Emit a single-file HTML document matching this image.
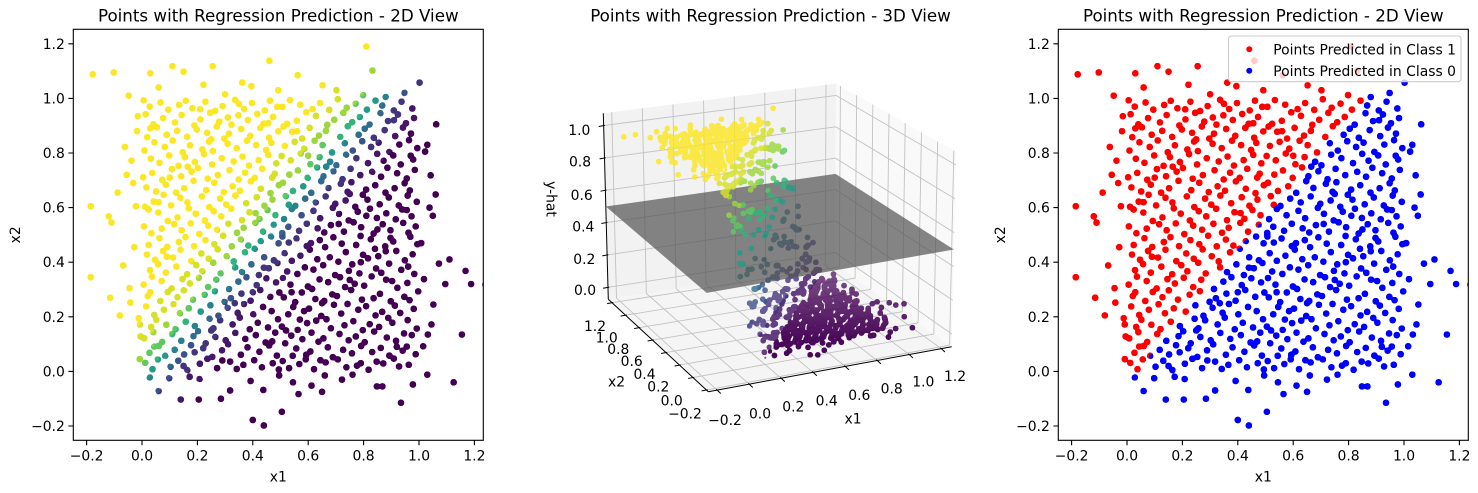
<!DOCTYPE html>
<html><head><meta charset="utf-8">
<style>
html,body{margin:0;padding:0;background:#fff;width:1478px;height:493px;overflow:hidden;}
svg{display:block;overflow:hidden;font-family:"DejaVu Sans","Liberation Sans",sans-serif;}
</style></head>
<body>
<svg width="1478" height="493" viewBox="0 0 1478 493" xmlns="http://www.w3.org/2000/svg" xmlns:xlink="http://www.w3.org/1999/xlink">
<defs>
<clipPath id="c1"><rect x="73.3" y="29.3" width="410" height="411"/></clipPath>
<clipPath id="c3"><rect x="1058.3" y="29.3" width="410" height="411"/></clipPath>
<clipPath id="cv"><rect x="540" y="60" width="440" height="360"/></clipPath>
<linearGradient id="gd" gradientUnits="userSpaceOnUse" x1="0" y1="340" x2="0" y2="250"><stop offset="0" stop-color="#ffffff"/><stop offset="1" stop-color="#999999"/></linearGradient>
<mask id="md" maskUnits="userSpaceOnUse" x="0" y="0" width="1478" height="493"><rect x="0" y="0" width="1478" height="493" fill="url(#gd)"/></mask>
<path id="T" fill="none" vector-effect="non-scaling-stroke" stroke-linecap="round" d="M12 31h0M38 8h0M57 44h0M103 17h0M131 39h0M164 5h0M209 28h0M236 46h0M271 12h0M318 36h0M342 9h0M366 24h0M405 41h0M433 15h0M472 30h0M494 7h0M27 68h0M44 91h0M61 93h0M84 57h0M118 79h0M152 62h0M177 96h0M221 85h0M254 53h0M289 77h0M311 99h0M357 61h0M381 88h0M424 72h0M459 95h0M487 58h0M8 121h0M41 144h0M73 108h0M109 137h0M142 112h0M186 129h0M203 147h0M230 103h0M265 126h0M302 114h0M337 141h0M373 119h0M411 133h0M446 106h0M481 142h0M33 163h0M52 189h0M88 171h0M121 155h0M158 182h0M191 166h0M244 193h0M258 158h0M282 187h0M327 172h0M353 197h0M389 154h0M418 178h0M455 161h0M491 191h0M15 238h0M44 207h0M79 226h0M114 246h0M137 213h0M169 231h0M212 219h0M247 242h0M276 204h0M309 233h0M345 215h0M368 247h0M402 209h0M437 236h0M468 221h0M21 276h0M66 258h0M93 291h0M128 272h0M151 297h0M184 263h0M226 281h0M263 294h0M298 255h0M321 268h0M359 285h0M392 259h0M427 298h0M463 273h0M496 289h0M6 318h0M36 347h0M71 331h0M107 304h0M146 338h0M173 322h0M205 343h0M239 309h0M268 336h0M314 302h0M348 329h0M377 345h0M414 316h0M449 341h0M484 326h0M29 371h0M58 393h0M86 362h0M124 384h0M163 356h0M196 389h0M218 367h0M257 398h0M284 359h0M336 381h0M361 364h0M395 392h0M422 353h0M458 378h0M489 397h0M18 428h0M47 409h0M76 441h0M112 417h0M139 446h0M178 404h0M214 432h0M241 413h0M273 447h0M306 422h0M331 403h0M372 436h0M407 449h0M441 418h0M476 407h0M24 463h0M63 488h0M91 456h0M133 474h0M157 492h0M188 459h0M229 481h0M261 466h0M293 497h0M324 458h0M357 483h0M384 461h0M429 477h0M466 494h0M493 469h0M190 70h0M335 250h0M440 380h0M250 150h0M90 420h0M470 110h0M150 20h0M400 290h0M30 290h0M290 40h0"/>
<path id="Edge" fill="none" vector-effect="non-scaling-stroke" stroke-linecap="round" d="M-185 345h0M-115 270h0M-80 205h0M-45 305h0M-42 252h0M-12 195h0M-8 172h0M-5 128h0M-22 605h0M-38 772h0M-62 822h0M-88 655h0M-120 568h0M-178 1088h0M-102 1095h0M-28 455h0M-68 388h0M-15 935h0M-48 1010h0M-55 720h0M-185 605h0M-110 545h0M-32 690h0M-8 45h0M-18 880h0M440 -198h0M400 -178h0M505 -148h0M140 -103h0M205 -103h0M285 -100h0M565 -83h0M650 -75h0M935 -115h0M60 -72h0M868 -55h0M848 -55h0M318 -70h0M28 -22h0M98 -25h0M172 -20h0M392 -35h0M438 -68h0M612 -52h0M978 -48h0M760 -12h0M722 -30h0M495 -15h0M545 -40h0M1030 -12h0M208 -28h0M660 -15h0M1240 318h0M1188 320h0M1168 368h0M1155 135h0M1125 -40h0M1110 410h0M1072 395h0M1052 245h0M1045 172h0M1032 135h0M1018 338h0M1050 570h0M1060 648h0M1042 718h0M1022 805h0M1062 905h0M1030 830h0M1015 92h0M1095 320h0M1008 470h0M1038 600h0M810 1190h0M460 1138h0M110 1118h0M255 1118h0M30 1092h0M362 1058h0M150 1098h0M832 1102h0M1002 1058h0M562 1085h0M652 1048h0M492 1030h0M798 1012h0M222 1050h0M702 1030h0M948 1020h0M395 1045h0M60 1040h0M300 1015h0M880 1005h0"/>
<g id="cloud">
<use href="#T" xlink:href="#T"/>
<use href="#T" xlink:href="#T" transform="matrix(0,1,1,0,500,0)"/>
<use href="#T" xlink:href="#T" transform="matrix(-1,0,0,-1,500,1000)"/>
<use href="#T" xlink:href="#T" transform="matrix(-1,0,0,1,1000,500)"/>
<use href="#Edge" xlink:href="#Edge"/>
</g>
<clipPath id="k0" clipPathUnits="userSpaceOnUse"><polygon points="-95,-400 1463,1500 3000,1500 3000,-400"/></clipPath>
<clipPath id="k1" clipPathUnits="userSpaceOnUse"><polygon points="-166,-400 1392,1500 1463,1500 -95,-400"/></clipPath>
<clipPath id="k2" clipPathUnits="userSpaceOnUse"><polygon points="-211,-400 1347,1500 1392,1500 -166,-400"/></clipPath>
<clipPath id="k3" clipPathUnits="userSpaceOnUse"><polygon points="-241,-400 1317,1500 1347,1500 -211,-400"/></clipPath>
<clipPath id="k4" clipPathUnits="userSpaceOnUse"><polygon points="-266,-400 1292,1500 1317,1500 -241,-400"/></clipPath>
<clipPath id="k5" clipPathUnits="userSpaceOnUse"><polygon points="-288,-400 1270,1500 1292,1500 -266,-400"/></clipPath>
<clipPath id="k6" clipPathUnits="userSpaceOnUse"><polygon points="-310,-400 1248,1500 1270,1500 -288,-400"/></clipPath>
<clipPath id="k7" clipPathUnits="userSpaceOnUse"><polygon points="-335,-400 1223,1500 1248,1500 -310,-400"/></clipPath>
<clipPath id="k8" clipPathUnits="userSpaceOnUse"><polygon points="-365,-400 1193,1500 1223,1500 -335,-400"/></clipPath>
<clipPath id="k9" clipPathUnits="userSpaceOnUse"><polygon points="-410,-400 1148,1500 1193,1500 -365,-400"/></clipPath>
<clipPath id="k10" clipPathUnits="userSpaceOnUse"><polygon points="-481,-400 1077,1500 1148,1500 -410,-400"/></clipPath>
<clipPath id="k11" clipPathUnits="userSpaceOnUse"><polygon points="-3000,-400 -481,-400 1077,1500 -3000,1500"/></clipPath>
<clipPath id="kr" clipPathUnits="userSpaceOnUse"><polygon points="-3000,-400 -288,-400 1270,1500 -3000,1500"/></clipPath>
<clipPath id="kb" clipPathUnits="userSpaceOnUse"><polygon points="-288,-400 1270,1500 3000,1500 3000,-400"/></clipPath>

<filter id="f0" filterUnits="userSpaceOnUse" x="0" y="0" width="1478" height="493" color-interpolation-filters="sRGB"><feGaussianBlur in="SourceAlpha" stdDeviation="1" result="b"/><feComponentTransfer in="b" result="m"><feFuncA type="linear" slope="33" intercept="-1.02"/></feComponentTransfer><feFlood flood-color="#440154"/><feComposite in2="m" operator="in"/></filter>
<filter id="f1" filterUnits="userSpaceOnUse" x="0" y="0" width="1478" height="493" color-interpolation-filters="sRGB"><feGaussianBlur in="SourceAlpha" stdDeviation="1" result="b"/><feComponentTransfer in="b" result="m"><feFuncA type="linear" slope="33" intercept="-1.02"/></feComponentTransfer><feFlood flood-color="#461669"/><feComposite in2="m" operator="in"/></filter>
<filter id="f2" filterUnits="userSpaceOnUse" x="0" y="0" width="1478" height="493" color-interpolation-filters="sRGB"><feGaussianBlur in="SourceAlpha" stdDeviation="1" result="b"/><feComponentTransfer in="b" result="m"><feFuncA type="linear" slope="33" intercept="-1.02"/></feComponentTransfer><feFlood flood-color="#44347e"/><feComposite in2="m" operator="in"/></filter>
<filter id="f3" filterUnits="userSpaceOnUse" x="0" y="0" width="1478" height="493" color-interpolation-filters="sRGB"><feGaussianBlur in="SourceAlpha" stdDeviation="1" result="b"/><feComponentTransfer in="b" result="m"><feFuncA type="linear" slope="33" intercept="-1.02"/></feComponentTransfer><feFlood flood-color="#3b528a"/><feComposite in2="m" operator="in"/></filter>
<filter id="f4" filterUnits="userSpaceOnUse" x="0" y="0" width="1478" height="493" color-interpolation-filters="sRGB"><feGaussianBlur in="SourceAlpha" stdDeviation="1" result="b"/><feComponentTransfer in="b" result="m"><feFuncA type="linear" slope="33" intercept="-1.02"/></feComponentTransfer><feFlood flood-color="#306c8e"/><feComposite in2="m" operator="in"/></filter>
<filter id="f5" filterUnits="userSpaceOnUse" x="0" y="0" width="1478" height="493" color-interpolation-filters="sRGB"><feGaussianBlur in="SourceAlpha" stdDeviation="1" result="b"/><feComponentTransfer in="b" result="m"><feFuncA type="linear" slope="33" intercept="-1.02"/></feComponentTransfer><feFlood flood-color="#26848d"/><feComposite in2="m" operator="in"/></filter>
<filter id="f6" filterUnits="userSpaceOnUse" x="0" y="0" width="1478" height="493" color-interpolation-filters="sRGB"><feGaussianBlur in="SourceAlpha" stdDeviation="1" result="b"/><feComponentTransfer in="b" result="m"><feFuncA type="linear" slope="33" intercept="-1.02"/></feComponentTransfer><feFlood flood-color="#229c88"/><feComposite in2="m" operator="in"/></filter>
<filter id="f7" filterUnits="userSpaceOnUse" x="0" y="0" width="1478" height="493" color-interpolation-filters="sRGB"><feGaussianBlur in="SourceAlpha" stdDeviation="1" result="b"/><feComponentTransfer in="b" result="m"><feFuncA type="linear" slope="33" intercept="-1.02"/></feComponentTransfer><feFlood flood-color="#33b47a"/><feComposite in2="m" operator="in"/></filter>
<filter id="f8" filterUnits="userSpaceOnUse" x="0" y="0" width="1478" height="493" color-interpolation-filters="sRGB"><feGaussianBlur in="SourceAlpha" stdDeviation="1" result="b"/><feComponentTransfer in="b" result="m"><feFuncA type="linear" slope="33" intercept="-1.02"/></feComponentTransfer><feFlood flood-color="#5fc860"/><feComposite in2="m" operator="in"/></filter>
<filter id="f9" filterUnits="userSpaceOnUse" x="0" y="0" width="1478" height="493" color-interpolation-filters="sRGB"><feGaussianBlur in="SourceAlpha" stdDeviation="1" result="b"/><feComponentTransfer in="b" result="m"><feFuncA type="linear" slope="33" intercept="-1.02"/></feComponentTransfer><feFlood flood-color="#9cd83c"/><feComposite in2="m" operator="in"/></filter>
<filter id="f10" filterUnits="userSpaceOnUse" x="0" y="0" width="1478" height="493" color-interpolation-filters="sRGB"><feGaussianBlur in="SourceAlpha" stdDeviation="1" result="b"/><feComponentTransfer in="b" result="m"><feFuncA type="linear" slope="33" intercept="-1.02"/></feComponentTransfer><feFlood flood-color="#d7e226"/><feComposite in2="m" operator="in"/></filter>
<filter id="f11" filterUnits="userSpaceOnUse" x="0" y="0" width="1478" height="493" color-interpolation-filters="sRGB"><feGaussianBlur in="SourceAlpha" stdDeviation="1" result="b"/><feComponentTransfer in="b" result="m"><feFuncA type="linear" slope="33" intercept="-1.02"/></feComponentTransfer><feFlood flood-color="#fbe723"/><feComposite in2="m" operator="in"/></filter>
<filter id="fr" filterUnits="userSpaceOnUse" x="0" y="0" width="1478" height="493" color-interpolation-filters="sRGB"><feGaussianBlur in="SourceAlpha" stdDeviation="1" result="b"/><feComponentTransfer in="b" result="m"><feFuncA type="linear" slope="33" intercept="-1.02"/></feComponentTransfer><feFlood flood-color="#ff0000"/><feComposite in2="m" operator="in"/></filter>
<filter id="fb" filterUnits="userSpaceOnUse" x="0" y="0" width="1478" height="493" color-interpolation-filters="sRGB"><feGaussianBlur in="SourceAlpha" stdDeviation="1" result="b"/><feComponentTransfer in="b" result="m"><feFuncA type="linear" slope="33" intercept="-1.02"/></feComponentTransfer><feFlood flood-color="#0000ff"/><feComposite in2="m" operator="in"/></filter>
</defs>
<rect x="0" y="0" width="1478" height="493" fill="#fff"/>

<!-- Panel 1 -->
<g clip-path="url(#c1)">
<g filter="url(#f0)"><g transform="matrix(0.277,0,0,-0.273,142,371.4)"><use href="#cloud" xlink:href="#cloud" clip-path="url(#k0)" stroke="#000" stroke-width="3.4"/></g></g>
<g filter="url(#f1)"><g transform="matrix(0.277,0,0,-0.273,142,371.4)"><use href="#cloud" xlink:href="#cloud" clip-path="url(#k1)" stroke="#000" stroke-width="3.4"/></g></g>
<g filter="url(#f2)"><g transform="matrix(0.277,0,0,-0.273,142,371.4)"><use href="#cloud" xlink:href="#cloud" clip-path="url(#k2)" stroke="#000" stroke-width="3.4"/></g></g>
<g filter="url(#f3)"><g transform="matrix(0.277,0,0,-0.273,142,371.4)"><use href="#cloud" xlink:href="#cloud" clip-path="url(#k3)" stroke="#000" stroke-width="3.4"/></g></g>
<g filter="url(#f4)"><g transform="matrix(0.277,0,0,-0.273,142,371.4)"><use href="#cloud" xlink:href="#cloud" clip-path="url(#k4)" stroke="#000" stroke-width="3.4"/></g></g>
<g filter="url(#f5)"><g transform="matrix(0.277,0,0,-0.273,142,371.4)"><use href="#cloud" xlink:href="#cloud" clip-path="url(#k5)" stroke="#000" stroke-width="3.4"/></g></g>
<g filter="url(#f6)"><g transform="matrix(0.277,0,0,-0.273,142,371.4)"><use href="#cloud" xlink:href="#cloud" clip-path="url(#k6)" stroke="#000" stroke-width="3.4"/></g></g>
<g filter="url(#f7)"><g transform="matrix(0.277,0,0,-0.273,142,371.4)"><use href="#cloud" xlink:href="#cloud" clip-path="url(#k7)" stroke="#000" stroke-width="3.4"/></g></g>
<g filter="url(#f8)"><g transform="matrix(0.277,0,0,-0.273,142,371.4)"><use href="#cloud" xlink:href="#cloud" clip-path="url(#k8)" stroke="#000" stroke-width="3.4"/></g></g>
<g filter="url(#f9)"><g transform="matrix(0.277,0,0,-0.273,142,371.4)"><use href="#cloud" xlink:href="#cloud" clip-path="url(#k9)" stroke="#000" stroke-width="3.4"/></g></g>
<g filter="url(#f10)"><g transform="matrix(0.277,0,0,-0.273,142,371.4)"><use href="#cloud" xlink:href="#cloud" clip-path="url(#k10)" stroke="#000" stroke-width="3.4"/></g></g>
<g filter="url(#f11)"><g transform="matrix(0.277,0,0,-0.273,142,371.4)"><use href="#cloud" xlink:href="#cloud" clip-path="url(#k11)" stroke="#000" stroke-width="3.4"/></g></g>
</g>
<rect x="73.3" y="29.3" width="410" height="411" fill="none" stroke="#000" stroke-width="1.1"/>
<g stroke="#000" stroke-width="1.1">
<path d="M68.4 43.8H73.3M68.4 98.4H73.3M68.4 153H73.3M68.4 207.6H73.3M68.4 262.2H73.3M68.4 316.8H73.3M68.4 371.4H73.3M68.4 426H73.3"/>
<path d="M86.6 440.3V445.2M142 440.3V445.2M197.4 440.3V445.2M252.8 440.3V445.2M308.2 440.3V445.2M363.6 440.3V445.2M419 440.3V445.2M474.4 440.3V445.2"/>
</g>
<g font-size="13.9" fill="#000" text-anchor="end">
<text x="64.8" y="48.8">1.2</text>
<text x="64.8" y="103.4">1.0</text>
<text x="64.8" y="158">0.8</text>
<text x="64.8" y="212.6">0.6</text>
<text x="64.8" y="267.2">0.4</text>
<text x="64.8" y="321.8">0.2</text>
<text x="64.8" y="376.4">0.0</text>
<text x="64.8" y="431">−0.2</text>
</g>
<g font-size="13.9" fill="#000" text-anchor="middle">
<text x="86.6" y="460.7">−0.2</text>
<text x="142" y="460.7">0.0</text>
<text x="197.4" y="460.7">0.2</text>
<text x="252.8" y="460.7">0.4</text>
<text x="308.2" y="460.7">0.6</text>
<text x="363.6" y="460.7">0.8</text>
<text x="419" y="460.7">1.0</text>
<text x="474.4" y="460.7">1.2</text>
<text x="278.3" y="481.6">x1</text>
<text transform="translate(20.2,234.8) rotate(-90)">x2</text>
</g>
<text x="278.3" y="21.7" font-size="16.7" text-anchor="middle" fill="#000">Points with Regression Prediction - 2D View</text>

<!-- Panel 2 (3D) -->
<polygon points="708.3,391.7 951.7,346.7 835,264 608.3,299.3" fill="#f5f5f5"/>
<polygon points="608.3,299.3 835,264 836,83.5 603.3,113.3" fill="#f2f2f2"/>
<polygon points="951.7,346.7 835,264 836,83.5 956,152" fill="#f9f9f9"/>
<g stroke="#c2c2c2" stroke-width="0.9" fill="none">
<path d="M717.11 390.07L616.51 298.02M749.14 384.15L646.34 293.38M781.15 378.23L676.15 288.73M813.18 372.31L705.98 284.09M845.21 366.39L735.82 279.44M877.24 360.46L765.65 274.8M909.28 354.54L795.49 270.15M941.28 348.63L825.3 265.51"/>
<path d="M706.48 390.02L949.58 345.19M692.98 377.54L933.82 334.03M679.49 365.08L918.08 322.87M665.99 352.61L902.32 311.71M652.5 340.14L886.58 300.55M639 327.67L870.83 289.39M625.51 315.2L855.08 278.23M612.01 302.73L839.33 267.07"/>
<path d="M616.51 298.02L611.72 112.22M646.34 293.38L642.35 108.3M676.15 288.73L672.95 104.38M705.98 284.09L703.57 100.46M735.82 279.44L734.19 96.54M765.65 274.8L764.82 92.62M795.49 270.15L795.44 88.69M825.3 265.51L826.04 84.78"/>
<path d="M607.98 287.34L835.06 252.39M607.11 254.98L835.24 220.99M606.24 222.63L835.41 189.6M605.37 190.29L835.59 158.21M604.5 157.94L835.76 126.82M603.63 125.59L835.93 95.42"/>
<path d="M949.58 345.19L953.82 150.75M933.82 334.03L937.62 141.51M918.08 322.87L921.43 132.27M902.32 311.71L905.23 123.02M886.58 300.55L889.04 113.78M870.83 289.39L872.84 104.53M855.08 278.23L856.65 95.29M839.33 267.07L840.45 86.04"/>
<path d="M951.98 334.18L835.06 252.39M952.72 300.3L835.24 220.99M953.47 266.45L835.41 189.6M954.22 232.59L835.59 158.21M954.97 198.73L835.76 126.82M955.72 164.87L835.93 95.42"/>
</g>
<g stroke="#000" stroke-width="1" fill="none">
<path d="M708.3 391.7L951.7 346.7M708.3 391.7L608.3 299.3M608.3 299.3L603.3 113.3"/>
<path d="M716.23 389.25l4.53 4.22M748.26 383.33l4.53 4.22M780.27 377.41l4.53 4.22M812.3 371.49l4.53 4.22M844.33 365.57l4.53 4.22M876.36 359.64l4.53 4.22M908.4 353.72l4.53 4.22M940.4 347.81l4.53 4.22"/>
<path d="M707.66 389.8l-6.08 1.12M694.16 377.32l-6.08 1.12M680.67 364.86l-6.08 1.12M667.17 352.39l-6.08 1.12M653.68 339.92l-6.08 1.12M640.18 327.45l-6.08 1.12M626.69 314.98l-6.08 1.12M613.19 302.51l-6.08 1.12"/>
<path d="M609.16 287.12l-6.08 1.12M608.29 254.76l-6.08 1.12M607.42 222.41l-6.08 1.12M606.55 190.07l-6.08 1.12M605.68 157.72l-6.08 1.12M604.81 125.37l-6.08 1.12"/>
</g>
<g clip-path="url(#cv)">
<g mask="url(#md)"><g filter="url(#f0)" opacity="0.97"><g transform="matrix(0.154965,-0.026203,-0.073234,-0.058430,735.155,354.835)"><use href="#cloud" xlink:href="#cloud" clip-path="url(#k0)" stroke="#000" stroke-width="2.6"/></g></g></g>
<g filter="url(#f1)" opacity="0.82"><g transform="matrix(0.156995,0.141728,-0.074813,-0.195645,734.689,312.306)"><use href="#cloud" xlink:href="#cloud" clip-path="url(#k1)" stroke="#000" stroke-width="2.6"/></g></g>
<g filter="url(#f2)" opacity="0.8"><g transform="matrix(0.159648,0.352445,-0.076833,-0.367555,734.3165,278.217)"><use href="#cloud" xlink:href="#cloud" clip-path="url(#k2)" stroke="#000" stroke-width="2.6"/></g></g>
<g filter="url(#f3)" opacity="0.8"><g transform="matrix(0.162108,0.542041,-0.078678,-0.522048,734.0742,256.071)"><use href="#cloud" xlink:href="#cloud" clip-path="url(#k3)" stroke="#000" stroke-width="2.6"/></g></g>
<g filter="url(#f4)" opacity="0.8"><g transform="matrix(0.163738,0.655663,-0.079842,-0.614244,733.9663,246.203)"><use href="#cloud" xlink:href="#cloud" clip-path="url(#k4)" stroke="#000" stroke-width="2.6"/></g></g>
<g filter="url(#f5)" opacity="0.8"><g transform="matrix(0.165144,0.748922,-0.080823,-0.689741,733.9033,240.446)"><use href="#cloud" xlink:href="#cloud" clip-path="url(#k5)" stroke="#000" stroke-width="2.6"/></g></g>
<polygon points="706.65,292.88 953.85,249.53 835.5,173.91 605.8,206.47" fill="#525252" fill-opacity="0.7"/>
<g filter="url(#f6)" opacity="0.82"><g transform="matrix(0.165533,0.749174,-0.080969,-0.688973,733.9033,240.446)"><use href="#cloud" xlink:href="#cloud" clip-path="url(#k6)" stroke="#000" stroke-width="2.6"/></g></g>
<g filter="url(#f7)" opacity="0.82"><g transform="matrix(0.164905,0.656419,-0.080282,-0.611938,733.9215,242.110)"><use href="#cloud" xlink:href="#cloud" clip-path="url(#k7)" stroke="#000" stroke-width="2.6"/></g></g>
<g filter="url(#f8)" opacity="0.82"><g transform="matrix(0.164054,0.543299,-0.079412,-0.518205,733.9127,241.307)"><use href="#cloud" xlink:href="#cloud" clip-path="url(#k8)" stroke="#000" stroke-width="2.6"/></g></g>
<g filter="url(#f9)" opacity="0.82"><g transform="matrix(0.162371,0.354207,-0.077859,-0.362175,733.8362,234.317)"><use href="#cloud" xlink:href="#cloud" clip-path="url(#k9)" stroke="#000" stroke-width="2.6"/></g></g>
<g filter="url(#f10)" opacity="0.82"><g transform="matrix(0.160419,0.143944,-0.076103,-0.188882,733.6475,217.067)"><use href="#cloud" xlink:href="#cloud" clip-path="url(#k10)" stroke="#000" stroke-width="2.6"/></g></g>
<g filter="url(#f11)" opacity="0.82"><g transform="matrix(0.158777,-0.023736,-0.074672,-0.050897,733.329,187.968)"><use href="#cloud" xlink:href="#cloud" clip-path="url(#k11)" stroke="#000" stroke-width="2.6"/></g></g>
</g>
<text x="770.5" y="21.7" font-size="16.7" text-anchor="middle" fill="#000">Points with Regression Prediction - 3D View</text>
<g font-size="13.9" fill="#000" text-anchor="middle">
<text x="579.3" y="135">1.0</text>
<text x="580" y="166.7">0.8</text>
<text x="581.7" y="200">0.6</text>
<text x="583.3" y="231.7">0.4</text>
<text x="584.3" y="264">0.2</text>
<text x="585" y="295">0.0</text>
<text x="725" y="425">−0.2</text>
<text x="760" y="418.3">0.0</text>
<text x="793.3" y="411.7">0.2</text>
<text x="826.7" y="405.7">0.4</text>
<text x="859.3" y="400">0.6</text>
<text x="891.7" y="393.3">0.8</text>
<text x="923.3" y="386.7">1.0</text>
<text x="955" y="381">1.2</text>
<text x="853" y="423.3">x1</text>
<text x="595" y="331">1.2</text>
<text x="606.7" y="342.3">1.0</text>
<text x="618.3" y="354">0.8</text>
<text x="631.7" y="366">0.6</text>
<text x="644.5" y="379">0.4</text>
<text x="658.3" y="391.7">0.2</text>
<text x="671.7" y="405.5">0.0</text>
<text x="685" y="418.3">−0.2</text>
<text x="616.5" y="386.5">x2</text>
<text transform="translate(546.5,199) rotate(90)">y-hat</text>
</g>

<!-- Panel 3 -->
<g clip-path="url(#c3)">
<g filter="url(#fr)"><g transform="matrix(0.277,0,0,-0.273,1127,371.4)"><use href="#cloud" xlink:href="#cloud" clip-path="url(#kr)" stroke="#000" stroke-width="3.4"/></g></g>
<g filter="url(#fb)"><g transform="matrix(0.277,0,0,-0.273,1127,371.4)"><use href="#cloud" xlink:href="#cloud" clip-path="url(#kb)" stroke="#000" stroke-width="3.4"/></g></g>
</g>
<rect x="1058.3" y="29.3" width="410" height="411" fill="none" stroke="#000" stroke-width="1.1"/>
<g stroke="#000" stroke-width="1.1">
<path d="M1053.4 43.8H1058.3M1053.4 98.4H1058.3M1053.4 153H1058.3M1053.4 207.6H1058.3M1053.4 262.2H1058.3M1053.4 316.8H1058.3M1053.4 371.4H1058.3M1053.4 426H1058.3"/>
<path d="M1071.6 440.3V445.2M1127 440.3V445.2M1182.4 440.3V445.2M1237.8 440.3V445.2M1293.2 440.3V445.2M1348.6 440.3V445.2M1404 440.3V445.2M1459.4 440.3V445.2"/>
</g>
<g font-size="13.9" fill="#000" text-anchor="end">
<text x="1049.8" y="48.8">1.2</text>
<text x="1049.8" y="103.4">1.0</text>
<text x="1049.8" y="158">0.8</text>
<text x="1049.8" y="212.6">0.6</text>
<text x="1049.8" y="267.2">0.4</text>
<text x="1049.8" y="321.8">0.2</text>
<text x="1049.8" y="376.4">0.0</text>
<text x="1049.8" y="431">−0.2</text>
</g>
<g font-size="13.9" fill="#000" text-anchor="middle">
<text x="1071.6" y="460.7">−0.2</text>
<text x="1127" y="460.7">0.0</text>
<text x="1182.4" y="460.7">0.2</text>
<text x="1237.8" y="460.7">0.4</text>
<text x="1293.2" y="460.7">0.6</text>
<text x="1348.6" y="460.7">0.8</text>
<text x="1404" y="460.7">1.0</text>
<text x="1459.4" y="460.7">1.2</text>
<text x="1263.3" y="481.6">x1</text>
<text transform="translate(1005.2,234.8) rotate(-90)">x2</text>
</g>
<text x="1263.3" y="21.7" font-size="16.7" text-anchor="middle" fill="#000">Points with Regression Prediction - 2D View</text>
<rect x="1228.5" y="36" width="232.5" height="45.7" rx="2.8" ry="2.8" fill="#fff" fill-opacity="0.8" stroke="#cccccc" stroke-width="1.1"/>
<circle cx="1249.3" cy="49.3" r="3" fill="#ff0000"/>
<circle cx="1249.3" cy="70.7" r="3" fill="#0000ff"/>
<g font-size="13.9" fill="#000">
<text x="1273.3" y="54.4">Points Predicted in Class 1</text>
<text x="1273.3" y="75.8">Points Predicted in Class 0</text>
</g>
</svg>
</body></html>
